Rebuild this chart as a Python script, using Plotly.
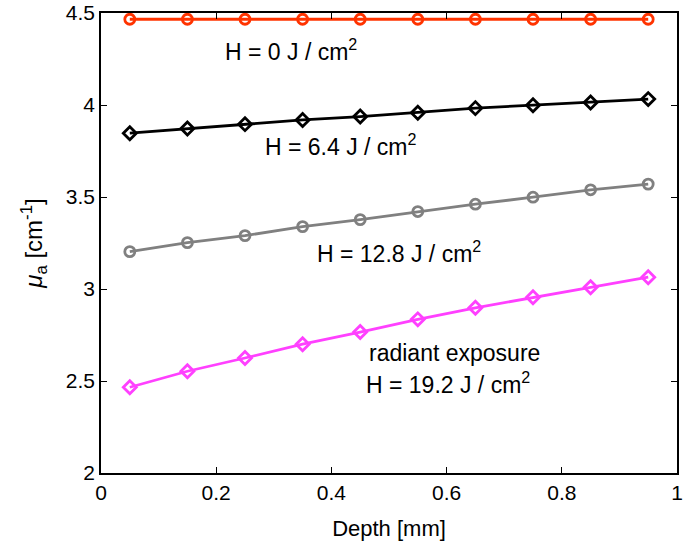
import plotly.graph_objects as go

# Depth positions (mm) of the sampled layers
depth = [0.05, 0.15, 0.25, 0.35, 0.45, 0.55, 0.65, 0.75, 0.85, 0.95]

# Absorption coefficient mu_a (cm^-1) for each radiant exposure
mua_h0 = [4.466, 4.466, 4.466, 4.466, 4.466, 4.466, 4.466, 4.466, 4.466, 4.466]
mua_h64 = [3.847, 3.872, 3.896, 3.919, 3.937, 3.958, 3.983, 3.999, 4.014, 4.032]
mua_h128 = [3.203, 3.252, 3.290, 3.339, 3.377, 3.421, 3.461, 3.499, 3.539, 3.570]
mua_h192 = [2.466, 2.553, 2.625, 2.700, 2.766, 2.835, 2.898, 2.955, 3.009, 3.064]

x_ticks = [0, 0.2, 0.4, 0.6, 0.8, 1]
x_tick_labels = ["0", "0.2", "0.4", "0.6", "0.8", "1"]
y_ticks = [2, 2.5, 3, 3.5, 4, 4.5]
y_tick_labels = ["2", "2.5", "3", "3.5", "4", "4.5"]

FONT = "Liberation Sans, Arial, Helvetica, sans-serif"

series = [
    (mua_h0, "#ff3300", "circle-open"),
    (mua_h64, "#000000", "diamond-open"),
    (mua_h128, "#808080", "circle-open"),
    (mua_h192, "#ff40ff", "diamond-open"),
]

fig = go.Figure()
for values, color, symbol in series:
    fig.add_trace(go.Scatter(
        x=depth, y=values, mode="lines+markers",
        line=dict(color=color, width=2.8),
        marker=dict(symbol=symbol, size=10, color=color,
                    line=dict(color=color, width=2.8)),
        showlegend=False,
    ))

labels = [
    (0.212, 4.30, "H = 0 J / cm<sup>2</sup>"),
    (0.281, 3.784, "H = 6.4 J / cm<sup>2</sup>"),
    (0.372, 3.201, "H = 12.8 J / cm<sup>2</sup>"),
    (0.462, 2.652, "radiant exposure"),
    (0.456, 2.489, "H = 19.2 J / cm<sup>2</sup>"),
]
for x, y, text in labels:
    fig.add_annotation(x=x, y=y, text=text, showarrow=False,
                       xanchor="left", yanchor="middle",
                       font=dict(family=FONT, size=23, color="black"))

axis_common = dict(
    showline=True, linecolor="black", linewidth=1.5, mirror="ticks",
    ticks="inside", ticklen=6, tickwidth=1, tickcolor="black",
    showgrid=False, zeroline=False, ticklabeloverflow="allow",
    tickfont=dict(family=FONT, size=21, color="black"),
)

fig.update_layout(
    width=684, height=552,
    margin=dict(l=101, r=1, t=13, b=79),
    paper_bgcolor="white", plot_bgcolor="white",
    xaxis=dict(range=[0, 1], tickvals=x_ticks, ticktext=x_tick_labels,
               title=dict(text="Depth [mm]", standoff=18,
                          font=dict(family=FONT, size=22, color="black")),
               **axis_common),
    yaxis=dict(range=[2, 4.5], tickvals=y_ticks, ticktext=y_tick_labels,
               title=dict(text="<i>μ</i><sub>a</sub> [cm<sup>-1</sup>]", standoff=16,
                          font=dict(family=FONT, size=24, color="black")),
               **axis_common),
)

fig.write_html("out.html")
